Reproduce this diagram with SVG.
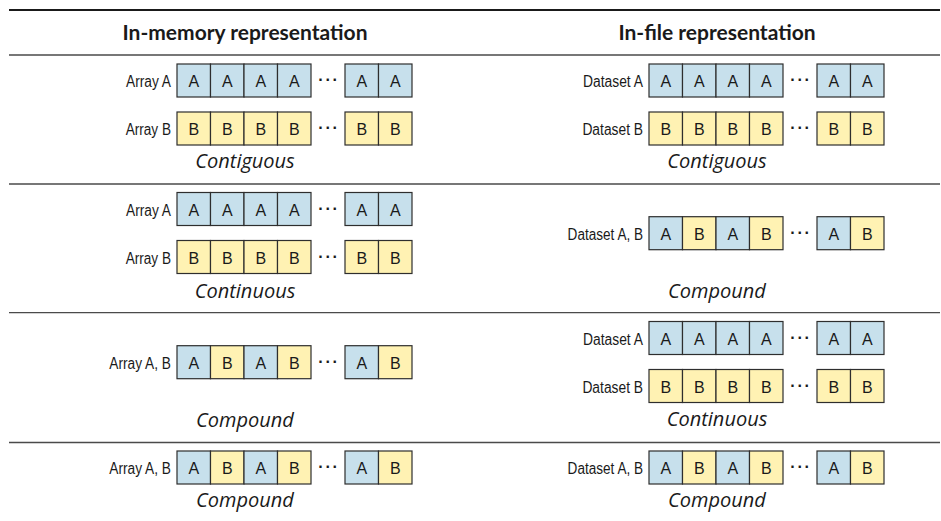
<svg xmlns="http://www.w3.org/2000/svg" width="941" height="521" viewBox="0 0 941 521">
  <style>
    .bg { fill: #ffffff; }
    .rule-top { stroke: #1a1a1a; stroke-width: 2; }
    .rule { stroke: #4a4a4a; stroke-width: 1.3; }
    .head { font-family: Lato, "Open Sans", "Liberation Sans", sans-serif; font-weight: 700; font-size: 21px; fill: #1a1a1a; text-anchor: middle; }
    .kind { font-family: "Open Sans", Lato, "Liberation Sans", sans-serif; font-style: italic; font-size: 20px; fill: #1a1a1a; text-anchor: middle; }
    .a { fill: #c7e0ec; stroke: #2e2e2e; stroke-width: 1.2; }
    .b { fill: #fff2b3; stroke: #2e2e2e; stroke-width: 1.2; }
    .ch { font-family: "Liberation Sans", Arial, sans-serif; font-size: 16px; fill: #1a1a1a; text-anchor: middle; }
    .lbl { font-family: "Liberation Sans", Arial, sans-serif; font-size: 16px; fill: #1a1a1a; text-anchor: end; }
    .dots { font-family: "Liberation Sans", Arial, sans-serif; font-size: 16px; font-weight: 700; fill: #1a1a1a; text-anchor: middle; letter-spacing: 1.8px; }
  </style>

  <rect class="bg" x="0" y="0" width="941" height="521"/>

  <!-- horizontal rules -->
  <g id="rules">
    <line class="rule-top" x1="9" y1="10" x2="940" y2="10"/>
    <line class="rule" x1="9" y1="55" x2="940" y2="55"/>
    <line class="rule" x1="9" y1="184" x2="940" y2="184"/>
    <line class="rule" x1="9" y1="312.7" x2="940" y2="312.7"/>
    <line class="rule" x1="9" y1="442.5" x2="940" y2="442.5"/>
  </g>

  <!-- column headings -->
  <g id="headings">
    <text class="head" x="245" y="40">In-memory representation</text>
    <text class="head" x="717" y="40">In-file representation</text>
  </g>

  <!-- ===== Section 1: contiguous / contiguous ===== -->
  <g id="mem-1-a" transform="translate(177,64)">
    <text class="lbl" x="-6" y="23" textLength="45" lengthAdjust="spacingAndGlyphs">Array A</text>
    <rect class="a" x="0" width="33.5" height="33"/><rect class="a" x="33.5" width="33.5" height="33"/>
    <rect class="a" x="67" width="33.5" height="33"/><rect class="a" x="100.5" width="33.5" height="33"/>
    <rect class="a" x="168" width="33.5" height="33"/><rect class="a" x="201.5" width="33.5" height="33"/>
    <text class="ch" x="16.75" y="23">A</text><text class="ch" x="50.25" y="23">A</text>
    <text class="ch" x="83.75" y="23">A</text><text class="ch" x="117.25" y="23">A</text>
    <text class="dots" x="152" y="21">···</text>
    <text class="ch" x="184.75" y="23">A</text><text class="ch" x="218.25" y="23">A</text>
  </g>
  <g id="mem-1-b" transform="translate(177,112)">
    <text class="lbl" x="-6" y="23" textLength="45.3" lengthAdjust="spacingAndGlyphs">Array B</text>
    <rect class="b" x="0" width="33.5" height="33"/><rect class="b" x="33.5" width="33.5" height="33"/>
    <rect class="b" x="67" width="33.5" height="33"/><rect class="b" x="100.5" width="33.5" height="33"/>
    <rect class="b" x="168" width="33.5" height="33"/><rect class="b" x="201.5" width="33.5" height="33"/>
    <text class="ch" x="16.75" y="23">B</text><text class="ch" x="50.25" y="23">B</text>
    <text class="ch" x="83.75" y="23">B</text><text class="ch" x="117.25" y="23">B</text>
    <text class="dots" x="152" y="21">···</text>
    <text class="ch" x="184.75" y="23">B</text><text class="ch" x="218.25" y="23">B</text>
  </g>
  <text id="mem-1-kind" class="kind" x="245" y="168">Contiguous</text>

  <g id="file-1-a" transform="translate(649,64)">
    <text class="lbl" x="-6" y="23" textLength="60" lengthAdjust="spacingAndGlyphs">Dataset A</text>
    <rect class="a" x="0" width="33.5" height="33"/><rect class="a" x="33.5" width="33.5" height="33"/>
    <rect class="a" x="67" width="33.5" height="33"/><rect class="a" x="100.5" width="33.5" height="33"/>
    <rect class="a" x="168" width="33.5" height="33"/><rect class="a" x="201.5" width="33.5" height="33"/>
    <text class="ch" x="16.75" y="23">A</text><text class="ch" x="50.25" y="23">A</text>
    <text class="ch" x="83.75" y="23">A</text><text class="ch" x="117.25" y="23">A</text>
    <text class="dots" x="152" y="21">···</text>
    <text class="ch" x="184.75" y="23">A</text><text class="ch" x="218.25" y="23">A</text>
  </g>
  <g id="file-1-b" transform="translate(649,112)">
    <text class="lbl" x="-6" y="23" textLength="60.6" lengthAdjust="spacingAndGlyphs">Dataset B</text>
    <rect class="b" x="0" width="33.5" height="33"/><rect class="b" x="33.5" width="33.5" height="33"/>
    <rect class="b" x="67" width="33.5" height="33"/><rect class="b" x="100.5" width="33.5" height="33"/>
    <rect class="b" x="168" width="33.5" height="33"/><rect class="b" x="201.5" width="33.5" height="33"/>
    <text class="ch" x="16.75" y="23">B</text><text class="ch" x="50.25" y="23">B</text>
    <text class="ch" x="83.75" y="23">B</text><text class="ch" x="117.25" y="23">B</text>
    <text class="dots" x="152" y="21">···</text>
    <text class="ch" x="184.75" y="23">B</text><text class="ch" x="218.25" y="23">B</text>
  </g>
  <text id="file-1-kind" class="kind" x="717" y="168">Contiguous</text>

  <!-- ===== Section 2: continuous / compound ===== -->
  <g id="mem-2-a" transform="translate(177,192.5)">
    <text class="lbl" x="-6" y="23" textLength="45" lengthAdjust="spacingAndGlyphs">Array A</text>
    <rect class="a" x="0" width="33.5" height="33"/><rect class="a" x="33.5" width="33.5" height="33"/>
    <rect class="a" x="67" width="33.5" height="33"/><rect class="a" x="100.5" width="33.5" height="33"/>
    <rect class="a" x="168" width="33.5" height="33"/><rect class="a" x="201.5" width="33.5" height="33"/>
    <text class="ch" x="16.75" y="23">A</text><text class="ch" x="50.25" y="23">A</text>
    <text class="ch" x="83.75" y="23">A</text><text class="ch" x="117.25" y="23">A</text>
    <text class="dots" x="152" y="21">···</text>
    <text class="ch" x="184.75" y="23">A</text><text class="ch" x="218.25" y="23">A</text>
  </g>
  <g id="mem-2-b" transform="translate(177,240.5)">
    <text class="lbl" x="-6" y="23" textLength="45.3" lengthAdjust="spacingAndGlyphs">Array B</text>
    <rect class="b" x="0" width="33.5" height="33"/><rect class="b" x="33.5" width="33.5" height="33"/>
    <rect class="b" x="67" width="33.5" height="33"/><rect class="b" x="100.5" width="33.5" height="33"/>
    <rect class="b" x="168" width="33.5" height="33"/><rect class="b" x="201.5" width="33.5" height="33"/>
    <text class="ch" x="16.75" y="23">B</text><text class="ch" x="50.25" y="23">B</text>
    <text class="ch" x="83.75" y="23">B</text><text class="ch" x="117.25" y="23">B</text>
    <text class="dots" x="152" y="21">···</text>
    <text class="ch" x="184.75" y="23">B</text><text class="ch" x="218.25" y="23">B</text>
  </g>
  <text id="mem-2-kind" class="kind" x="245" y="297.5">Continuous</text>

  <g id="file-2-ab" transform="translate(649,216.7)">
    <text class="lbl" x="-6" y="23" textLength="75.4" lengthAdjust="spacingAndGlyphs">Dataset A, B</text>
    <rect class="a" x="0" width="33.5" height="33"/><rect class="b" x="33.5" width="33.5" height="33"/>
    <rect class="a" x="67" width="33.5" height="33"/><rect class="b" x="100.5" width="33.5" height="33"/>
    <rect class="a" x="168" width="33.5" height="33"/><rect class="b" x="201.5" width="33.5" height="33"/>
    <text class="ch" x="16.75" y="23">A</text><text class="ch" x="50.25" y="23">B</text>
    <text class="ch" x="83.75" y="23">A</text><text class="ch" x="117.25" y="23">B</text>
    <text class="dots" x="152" y="21">···</text>
    <text class="ch" x="184.75" y="23">A</text><text class="ch" x="218.25" y="23">B</text>
  </g>
  <text id="file-2-kind" class="kind" x="717" y="297.5">Compound</text>

  <!-- ===== Section 3: compound / continuous ===== -->
  <g id="mem-3-ab" transform="translate(177,345.7)">
    <text class="lbl" x="-6" y="23" textLength="61.7" lengthAdjust="spacingAndGlyphs">Array A, B</text>
    <rect class="a" x="0" width="33.5" height="33"/><rect class="b" x="33.5" width="33.5" height="33"/>
    <rect class="a" x="67" width="33.5" height="33"/><rect class="b" x="100.5" width="33.5" height="33"/>
    <rect class="a" x="168" width="33.5" height="33"/><rect class="b" x="201.5" width="33.5" height="33"/>
    <text class="ch" x="16.75" y="23">A</text><text class="ch" x="50.25" y="23">B</text>
    <text class="ch" x="83.75" y="23">A</text><text class="ch" x="117.25" y="23">B</text>
    <text class="dots" x="152" y="21">···</text>
    <text class="ch" x="184.75" y="23">A</text><text class="ch" x="218.25" y="23">B</text>
  </g>
  <text id="mem-3-kind" class="kind" x="245" y="426.5">Compound</text>

  <g id="file-3-a" transform="translate(649,321.5)">
    <text class="lbl" x="-6" y="23" textLength="60" lengthAdjust="spacingAndGlyphs">Dataset A</text>
    <rect class="a" x="0" width="33.5" height="33"/><rect class="a" x="33.5" width="33.5" height="33"/>
    <rect class="a" x="67" width="33.5" height="33"/><rect class="a" x="100.5" width="33.5" height="33"/>
    <rect class="a" x="168" width="33.5" height="33"/><rect class="a" x="201.5" width="33.5" height="33"/>
    <text class="ch" x="16.75" y="23">A</text><text class="ch" x="50.25" y="23">A</text>
    <text class="ch" x="83.75" y="23">A</text><text class="ch" x="117.25" y="23">A</text>
    <text class="dots" x="152" y="21">···</text>
    <text class="ch" x="184.75" y="23">A</text><text class="ch" x="218.25" y="23">A</text>
  </g>
  <g id="file-3-b" transform="translate(649,369.5)">
    <text class="lbl" x="-6" y="23" textLength="60.6" lengthAdjust="spacingAndGlyphs">Dataset B</text>
    <rect class="b" x="0" width="33.5" height="33"/><rect class="b" x="33.5" width="33.5" height="33"/>
    <rect class="b" x="67" width="33.5" height="33"/><rect class="b" x="100.5" width="33.5" height="33"/>
    <rect class="b" x="168" width="33.5" height="33"/><rect class="b" x="201.5" width="33.5" height="33"/>
    <text class="ch" x="16.75" y="23">B</text><text class="ch" x="50.25" y="23">B</text>
    <text class="ch" x="83.75" y="23">B</text><text class="ch" x="117.25" y="23">B</text>
    <text class="dots" x="152" y="21">···</text>
    <text class="ch" x="184.75" y="23">B</text><text class="ch" x="218.25" y="23">B</text>
  </g>
  <text id="file-3-kind" class="kind" x="717" y="426">Continuous</text>

  <!-- ===== Section 4: compound / compound ===== -->
  <g id="mem-4-ab" transform="translate(177,451)">
    <text class="lbl" x="-6" y="23" textLength="61.7" lengthAdjust="spacingAndGlyphs">Array A, B</text>
    <rect class="a" x="0" width="33.5" height="33"/><rect class="b" x="33.5" width="33.5" height="33"/>
    <rect class="a" x="67" width="33.5" height="33"/><rect class="b" x="100.5" width="33.5" height="33"/>
    <rect class="a" x="168" width="33.5" height="33"/><rect class="b" x="201.5" width="33.5" height="33"/>
    <text class="ch" x="16.75" y="23">A</text><text class="ch" x="50.25" y="23">B</text>
    <text class="ch" x="83.75" y="23">A</text><text class="ch" x="117.25" y="23">B</text>
    <text class="dots" x="152" y="21">···</text>
    <text class="ch" x="184.75" y="23">A</text><text class="ch" x="218.25" y="23">B</text>
  </g>
  <text id="mem-4-kind" class="kind" x="245" y="507">Compound</text>

  <g id="file-4-ab" transform="translate(649,451)">
    <text class="lbl" x="-6" y="23" textLength="75.4" lengthAdjust="spacingAndGlyphs">Dataset A, B</text>
    <rect class="a" x="0" width="33.5" height="33"/><rect class="b" x="33.5" width="33.5" height="33"/>
    <rect class="a" x="67" width="33.5" height="33"/><rect class="b" x="100.5" width="33.5" height="33"/>
    <rect class="a" x="168" width="33.5" height="33"/><rect class="b" x="201.5" width="33.5" height="33"/>
    <text class="ch" x="16.75" y="23">A</text><text class="ch" x="50.25" y="23">B</text>
    <text class="ch" x="83.75" y="23">A</text><text class="ch" x="117.25" y="23">B</text>
    <text class="dots" x="152" y="21">···</text>
    <text class="ch" x="184.75" y="23">A</text><text class="ch" x="218.25" y="23">B</text>
  </g>
  <text id="file-4-kind" class="kind" x="717" y="507">Compound</text>
</svg>
